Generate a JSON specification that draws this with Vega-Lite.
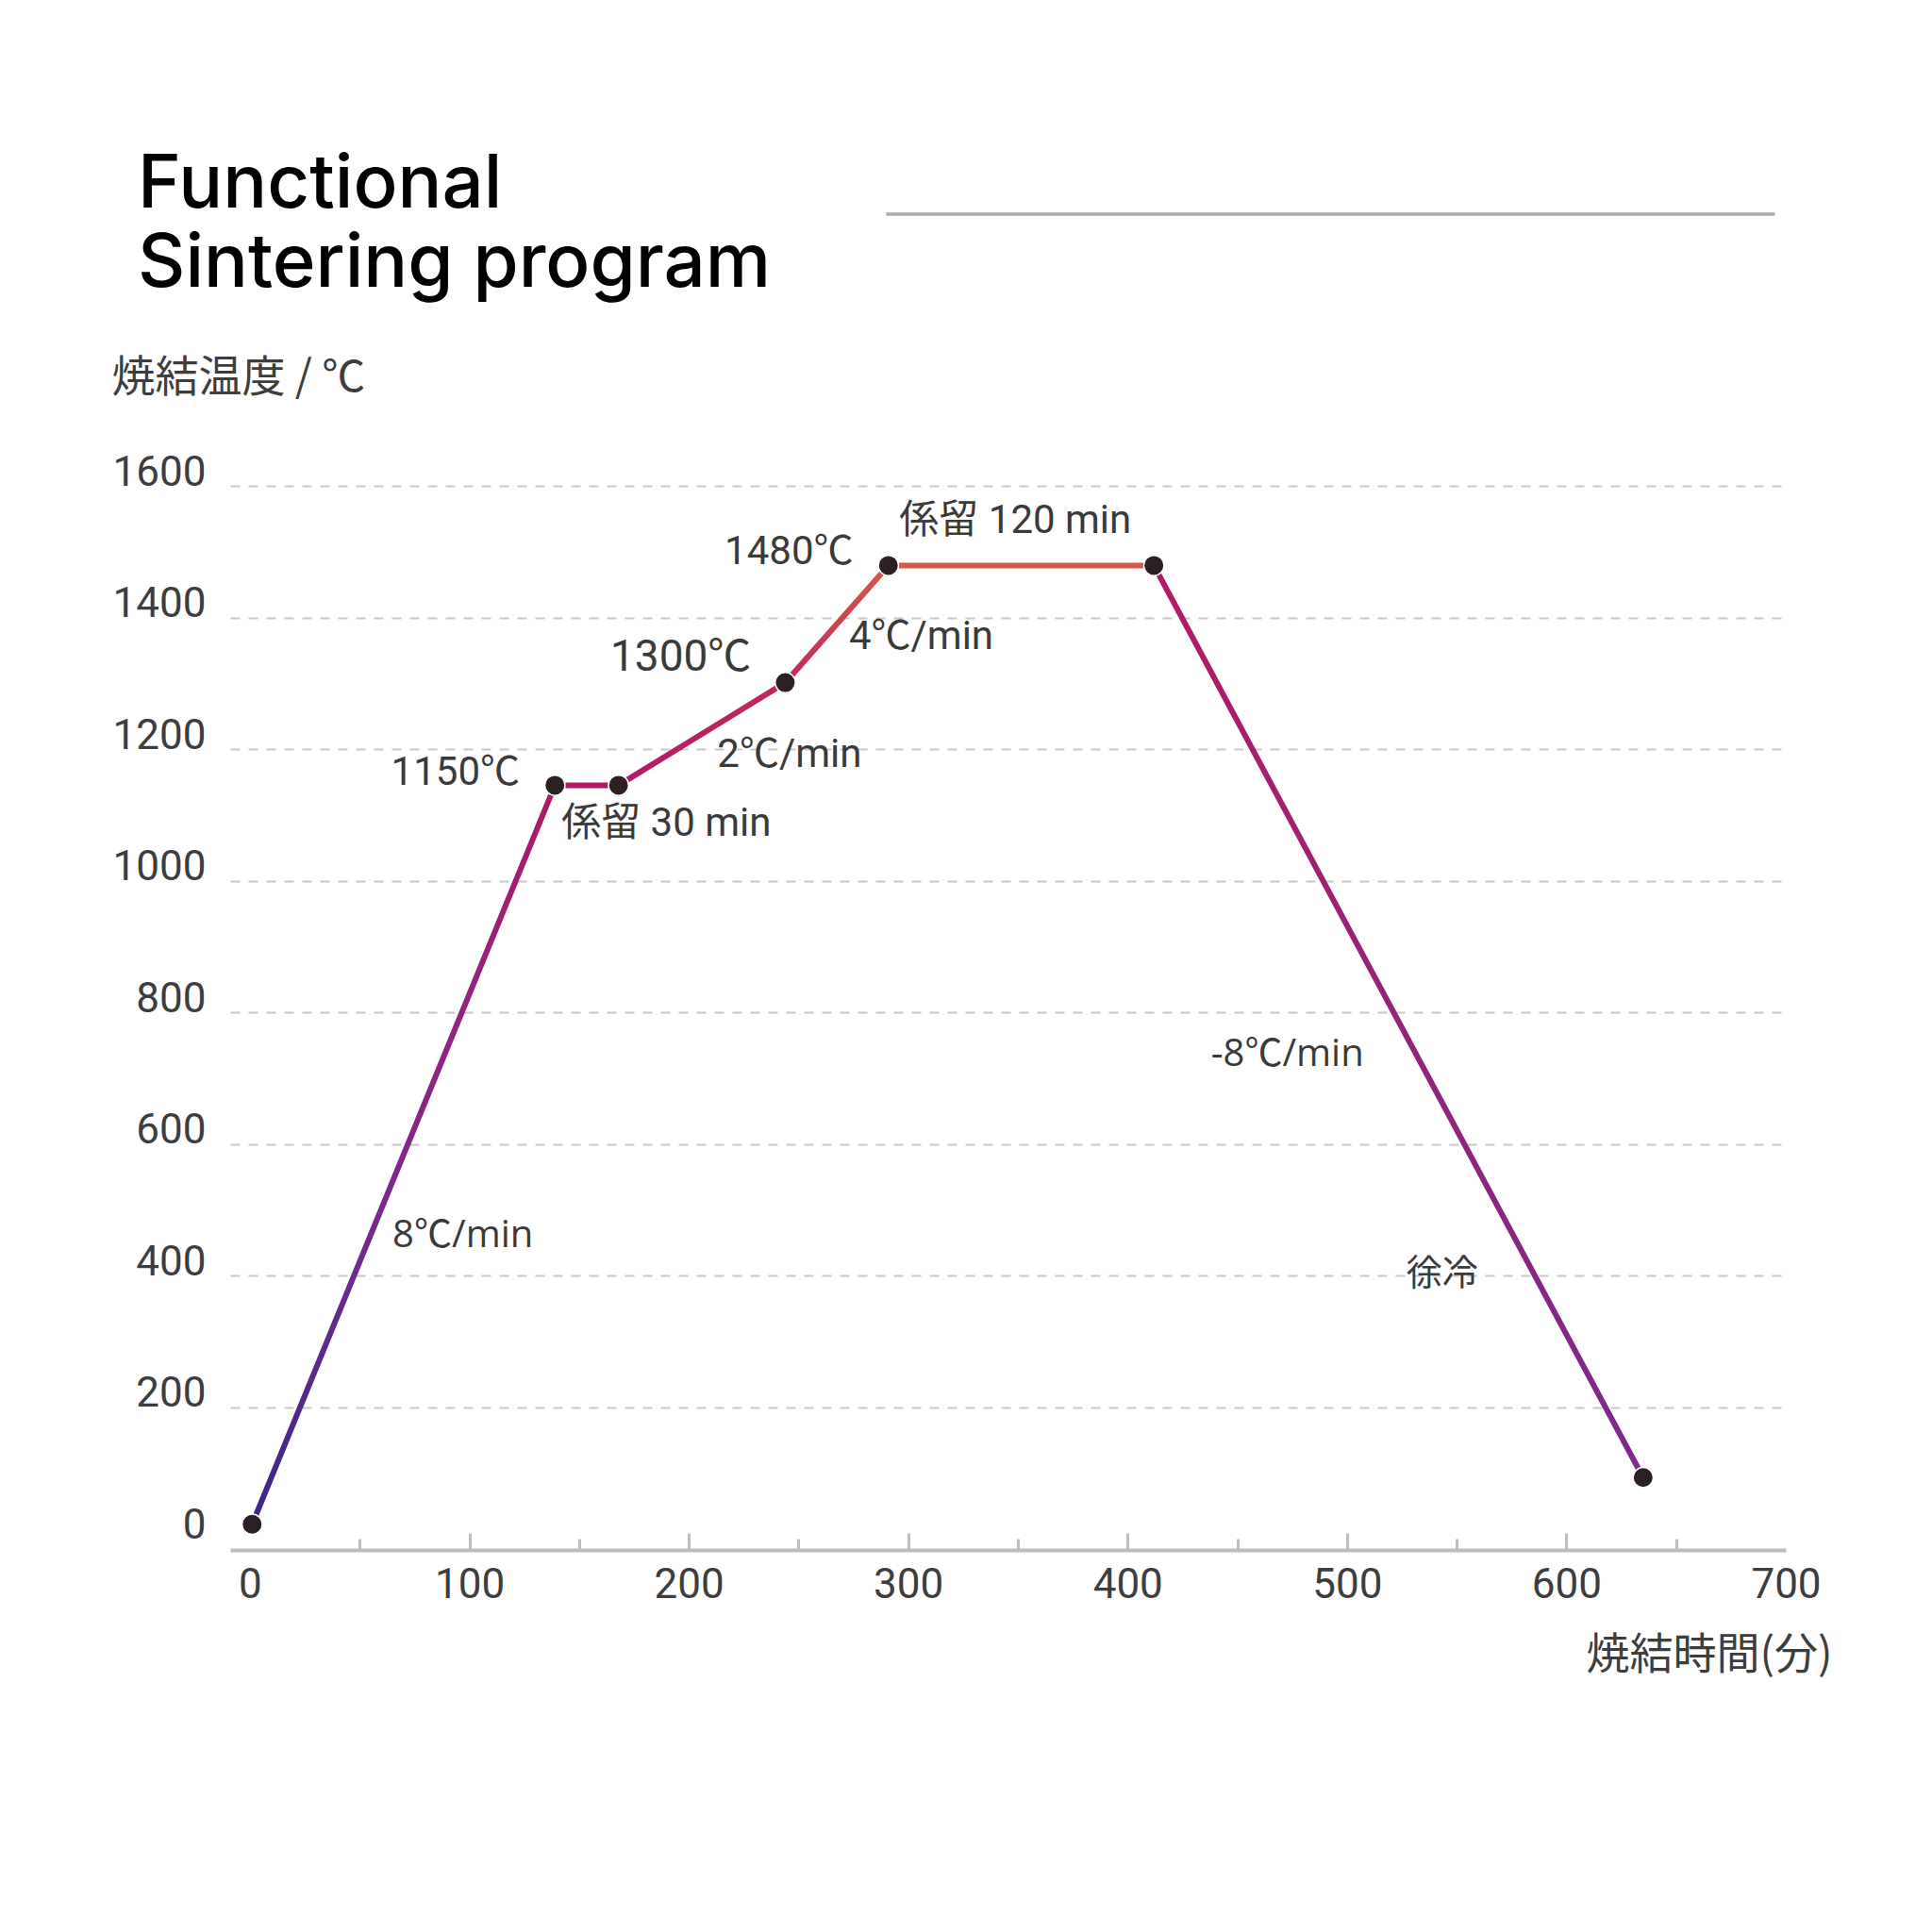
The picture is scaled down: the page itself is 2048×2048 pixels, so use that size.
{
  "$schema": "https://vega.github.io/schema/vega-lite/v6.json",
  "width": 1649,
  "height": 1128,
  "autosize": "none",
  "padding": {"left": 244, "top": 515, "right": 155, "bottom": 405},
  "background": "#ffffff",
  "config": {"view": {"stroke": null}},
  "title": {
    "text": ["Functional", "Sintering program"],
    "anchor": "start",
    "frame": "group",
    "font": "Inter",
    "fontSize": 78,
    "fontWeight": 500,
    "lineHeight": 84,
    "color": "#000000",
    "offset": 0,
    "dx": -98,
    "dy": 95
  },
  "datasets": {
    "rise": [
      {"t": 1, "temp": 22},
      {"t": 139, "temp": 1145},
      {"t": 168, "temp": 1145},
      {"t": 244, "temp": 1301},
      {"t": 291, "temp": 1479},
      {"t": 412, "temp": 1479}
    ],
    "fall": [
      {"t": 412, "temp": 1479},
      {"t": 635, "temp": 93}
    ],
    "points": [
      {"t": 1, "temp": 22},
      {"t": 139, "temp": 1145},
      {"t": 168, "temp": 1145},
      {"t": 244, "temp": 1301},
      {"t": 291, "temp": 1479},
      {"t": 412, "temp": 1479},
      {"t": 635, "temp": 93}
    ],
    "deco": [{"t": 290, "t2": 695, "temp": 2013}],
    "notesRight": [
      {"t": 123, "temp": 1164, "label": "1150℃"},
      {"t": 275, "temp": 1499, "label": "1480℃"}
    ],
    "notesBig": [
      {"t": 228.5, "temp": 1339, "label": "1300℃"}
    ],
    "notesLeft": [
      {"t": 142, "temp": 1087, "label": "係留 30 min"},
      {"t": 213, "temp": 1191, "label": "2℃/min"},
      {"t": 273, "temp": 1370, "label": "4℃/min"},
      {"t": 296, "temp": 1547, "label": "係留 120 min"}
    ],
    "notesRate": [
      {"t": 65, "temp": 460, "label": "8℃/min"},
      {"t": 438, "temp": 736, "label": "-8℃/min"}
    ],
    "notesCool": [
      {"t": 527, "temp": 402, "label": "徐冷"}
    ]
  },
  "encoding": {
    "x": {
      "field": "t",
      "type": "quantitative",
      "scale": {"domain": [-9, 700], "nice": false, "zero": false},
      "axis": {
        "title": "焼結時間(分)",
        "values": [0, 50, 100, 150, 200, 250, 300, 350, 400, 450, 500, 550, 600, 650, 700],
        "labelExpr": "datum.value % 100 === 0 ? datum.label : ''",
        "format": "d",
        "labelFont": "Roboto",
        "labelFontSize": 44,
        "labelColor": "#3d3d3d",
        "labelPadding": 33,
        "labelFlush": false,
        "labelOverlap": false,
        "domainColor": "#bdbdbd",
        "domainWidth": 4,
        "tickColor": "#bdbdbd",
        "tickWidth": 3,
        "tickSize": {"condition": {"test": "datum.value % 100 === 0", "value": -18}, "value": -12},
        "tickOpacity": {"condition": {"test": "datum.value === 0 || datum.value === 700", "value": 0}, "value": 1},
        "grid": false,
        "titleFont": "Noto Sans CJK JP",
        "titleFontSize": 46,
        "titleFontWeight": "normal",
        "titleColor": "#3d3d3d",
        "titleAlign": "right",
        "titleBaseline": "middle",
        "titleX": 1698,
        "titleY": 111
      }
    },
    "y": {
      "field": "temp",
      "type": "quantitative",
      "scale": {"domain": [-17, 1600], "nice": false, "zero": false},
      "axis": {
        "title": "焼結温度 / ℃",
        "values": [0, 200, 400, 600, 800, 1000, 1200, 1400, 1600],
        "format": "d",
        "labelFont": "Roboto",
        "labelFontSize": 44,
        "labelColor": "#3d3d3d",
        "labelPadding": 26,
        "labelOffset": -14,
        "ticks": false,
        "domain": false,
        "grid": true,
        "gridColor": "#c8c8c8",
        "gridDash": [10, 9],
        "gridWidth": 2,
        "gridOpacity": {"condition": {"test": "datum.value === 0", "value": 0}, "value": 1},
        "titleAngle": 0,
        "titleAlign": "left",
        "titleBaseline": "middle",
        "titleX": -126,
        "titleY": -115,
        "titleFont": "Noto Sans CJK JP",
        "titleFontSize": 46,
        "titleFontWeight": "normal",
        "titleColor": "#3d3d3d"
      }
    }
  },
  "layer": [
    {
      "data": {"name": "deco"},
      "mark": {"type": "rule", "stroke": "#aaaaaa", "strokeWidth": 3.5},
      "encoding": {"x2": {"field": "t2"}}
    },
    {
      "data": {"name": "rise"},
      "mark": {
        "type": "line",
        "strokeWidth": 6,
        "stroke": {
          "gradient": "linear",
          "x1": 0, "y1": 1, "x2": 0, "y2": 0,
          "stops": [
            {"offset": 0, "color": "#3b2687"},
            {"offset": 0.19, "color": "#5e2a8c"},
            {"offset": 0.33, "color": "#7a2a8e"},
            {"offset": 0.53, "color": "#92247e"},
            {"offset": 0.74, "color": "#ab1c6a"},
            {"offset": 0.77, "color": "#b01a66"},
            {"offset": 0.88, "color": "#c22a58"},
            {"offset": 1, "color": "#d35a48"}
          ]
        }
      }
    },
    {
      "data": {"name": "fall"},
      "mark": {
        "type": "line",
        "strokeWidth": 6,
        "stroke": {
          "gradient": "linear",
          "x1": 0, "y1": 0, "x2": 0, "y2": 1,
          "stops": [
            {"offset": 0, "color": "#b41a66"},
            {"offset": 0.5, "color": "#93247a"},
            {"offset": 1, "color": "#7d2a8b"}
          ]
        }
      }
    },
    {
      "data": {"name": "points"},
      "mark": {"type": "circle", "size": 460, "fill": "#2a1f21", "stroke": "#ffffff", "strokeWidth": 1.5, "opacity": 1}
    },
    {
      "data": {"name": "notesRight"},
      "mark": {"type": "text", "align": "right", "baseline": "middle", "font": "Roboto, 'Noto Sans CJK JP'", "fontSize": 42, "color": "#3a3a3a"},
      "encoding": {"text": {"field": "label"}}
    },
    {
      "data": {"name": "notesBig"},
      "mark": {"type": "text", "align": "right", "baseline": "middle", "font": "Roboto, 'Noto Sans CJK JP'", "fontSize": 46, "color": "#3a3a3a"},
      "encoding": {"text": {"field": "label"}}
    },
    {
      "data": {"name": "notesLeft"},
      "mark": {"type": "text", "align": "left", "baseline": "middle", "font": "Roboto, 'Noto Sans CJK JP'", "fontSize": 42, "color": "#3a3a3a"},
      "encoding": {"text": {"field": "label"}}
    },
    {
      "data": {"name": "notesRate"},
      "mark": {"type": "text", "align": "left", "baseline": "middle", "font": "'Open Sans', 'Noto Sans CJK JP'", "fontSize": 40, "color": "#3a3a3a"},
      "encoding": {"text": {"field": "label"}}
    },
    {
      "data": {"name": "notesCool"},
      "mark": {"type": "text", "align": "left", "baseline": "middle", "font": "Noto Sans CJK JP", "fontSize": 38, "color": "#3a3a3a"},
      "encoding": {"text": {"field": "label"}}
    }
  ]
}
